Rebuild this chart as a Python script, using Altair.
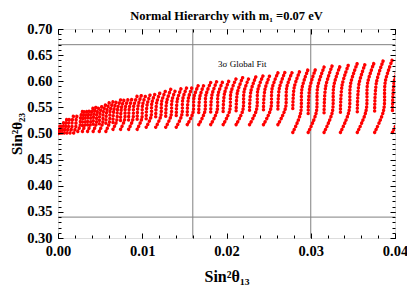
import altair as alt
import pandas as pd

# Main arcs of points: each row = control points (bottom -> top)
arc_x = [
    [0.0, 0.000015, 0.000017, 0.000029],
    [0.000029, 0.000073, 0.000081, 0.000116],
    [0.000116, 0.000189, 0.000203, 0.000261],
    [0.000261, 0.000363, 0.000383, 0.000464],
    [0.000464, 0.000595, 0.000621, 0.000725],
    [0.000725, 0.000885, 0.000916, 0.001044],
    [0.001044, 0.001233, 0.00127, 0.001421],
    [0.001421, 0.001639, 0.001682, 0.001856],
    [0.001856, 0.002103, 0.002152, 0.002349],
    [0.002349, 0.002625, 0.00268, 0.0029],
    [0.0029, 0.003205, 0.003265, 0.003509],
    [0.003509, 0.003843, 0.003909, 0.004176],
    [0.004176, 0.004539, 0.004611, 0.004901],
    [0.004901, 0.005293, 0.005371, 0.005684],
    [0.005684, 0.006105, 0.006189, 0.006525],
    [0.006525, 0.006975, 0.007064, 0.007424],
    [0.007424, 0.007903, 0.007998, 0.008381],
    [0.008381, 0.008889, 0.00899, 0.009396],
    [0.009396, 0.009933, 0.01004, 0.010469],
    [0.010469, 0.011035, 0.011148, 0.0116],
    [0.0116, 0.012195, 0.012313, 0.012789],
    [0.012789, 0.013413, 0.013537, 0.014036],
    [0.014036, 0.014689, 0.014819, 0.015341],
    [0.015341, 0.016023, 0.016159, 0.016704],
    [0.016704, 0.017415, 0.017557, 0.018125],
    [0.018125, 0.018865, 0.019012, 0.019604],
    [0.019604, 0.020373, 0.020526, 0.021141],
    [0.021141, 0.021939, 0.022098, 0.022736],
    [0.022736, 0.023563, 0.023728, 0.024389],
    [0.024389, 0.025245, 0.025416, 0.0261],
    [0.0261, 0.026985, 0.027161, 0.027869],
    [0.027869, 0.028783, 0.028965, 0.029696],
    [0.029696, 0.030639, 0.030827, 0.031581],
    [0.031581, 0.032553, 0.032747, 0.033524],
    [0.033524, 0.034525, 0.034725, 0.035525],
    [0.035525, 0.036555, 0.03676, 0.037584],
    [0.037584, 0.038643, 0.038854, 0.039701],
    [0.039701, 0.040789, 0.041006, 0.041876],
]
arc_y = [
    [0.500, 0.5026, 0.5061, 0.5087],
    [0.501, 0.5044, 0.509, 0.5124],
    [0.501, 0.5055, 0.5116, 0.5161],
    [0.501, 0.5066, 0.5142, 0.5198],
    [0.501, 0.5078, 0.5168, 0.5235],
    [0.501, 0.5089, 0.5193, 0.5272],
    [0.501, 0.51, 0.5219, 0.5309],
    [0.501, 0.5111, 0.5245, 0.5346],
    [0.501, 0.5122, 0.5271, 0.5383],
    [0.504, 0.5154, 0.5306, 0.542],
    [0.504, 0.5165, 0.5332, 0.5457],
    [0.504, 0.5176, 0.5358, 0.5494],
    [0.504, 0.5187, 0.5384, 0.5531],
    [0.504, 0.5198, 0.541, 0.5568],
    [0.504, 0.521, 0.5436, 0.5605],
    [0.508, 0.5249, 0.5473, 0.5642],
    [0.508, 0.526, 0.5499, 0.5679],
    [0.508, 0.5271, 0.5525, 0.5716],
    [0.508, 0.5282, 0.5551, 0.5753],
    [0.512, 0.5321, 0.5589, 0.579],
    [0.512, 0.5332, 0.5615, 0.5827],
    [0.512, 0.5343, 0.5641, 0.5864],
    [0.512, 0.5354, 0.5667, 0.5901],
    [0.517, 0.540, 0.5708, 0.5938],
    [0.517, 0.5412, 0.5734, 0.5975],
    [0.517, 0.5423, 0.5759, 0.6012],
    [0.517, 0.5434, 0.5785, 0.6049],
    [0.517, 0.5445, 0.5811, 0.6086],
    [0.517, 0.5456, 0.5837, 0.6123],
    [0.517, 0.5467, 0.5863, 0.616],
    [0.517, 0.5478, 0.5889, 0.6197],
    [0.502, 0.5384, 0.587, 0.6234],
    [0.502, 0.5395, 0.5896, 0.6271],
    [0.502, 0.5406, 0.5922, 0.6308],
    [0.502, 0.5418, 0.5948, 0.6345],
    [0.502, 0.5429, 0.5973, 0.6382],
    [0.502, 0.544, 0.5999, 0.6419],
    [0.502, 0.5451, 0.6025, 0.6456],
]

# Shorter upper arcs that sit between the main ones (upper band)
sub_x = [
    [0.0029, 0.002955, 0.003176],
    [0.003509, 0.00357, 0.003814],
    [0.004176, 0.004243, 0.00451],
    [0.004901, 0.004974, 0.005264],
    [0.005684, 0.005762, 0.006076],
    [0.006525, 0.006609, 0.006946],
    [0.007424, 0.007514, 0.007874],
    [0.008381, 0.008477, 0.00886],
    [0.009396, 0.009498, 0.009904],
    [0.010469, 0.010576, 0.011006],
    [0.0116, 0.011713, 0.012166],
    [0.012789, 0.012908, 0.013384],
    [0.014036, 0.014161, 0.01466],
    [0.015341, 0.015472, 0.015994],
    [0.016704, 0.01684, 0.017386],
    [0.018125, 0.018267, 0.018836],
    [0.019604, 0.019752, 0.020344],
    [0.021141, 0.021295, 0.02191],
    [0.022736, 0.022896, 0.023534],
    [0.024389, 0.024554, 0.025216],
    [0.0261, 0.026271, 0.026956],
    [0.027869, 0.028046, 0.028754],
    [0.029696, 0.029879, 0.03061],
    [0.031581, 0.03177, 0.032524],
    [0.033524, 0.033718, 0.034496],
    [0.035525, 0.035725, 0.036526],
    [0.037584, 0.03779, 0.038614],
    [0.039701, 0.039913, 0.04076],
]
sub_y = [
    [0.5154, 0.5306, 0.5439],
    [0.5165, 0.5332, 0.5476],
    [0.5176, 0.5358, 0.5513],
    [0.5187, 0.5384, 0.555],
    [0.5198, 0.541, 0.5587],
    [0.521, 0.5436, 0.5624],
    [0.5249, 0.5473, 0.5661],
    [0.526, 0.5499, 0.5698],
    [0.5271, 0.5525, 0.5735],
    [0.5282, 0.5551, 0.5772],
    [0.5321, 0.5589, 0.5809],
    [0.5332, 0.5615, 0.5846],
    [0.5343, 0.5641, 0.5883],
    [0.5354, 0.5667, 0.592],
    [0.540, 0.5708, 0.5957],
    [0.5412, 0.5734, 0.5994],
    [0.5423, 0.5759, 0.6031],
    [0.5434, 0.5785, 0.6068],
    [0.5445, 0.5811, 0.6105],
    [0.5456, 0.5837, 0.6142],
    [0.5467, 0.5863, 0.6179],
    [0.5478, 0.5889, 0.6216],
    [0.5384, 0.587, 0.6253],
    [0.5395, 0.5896, 0.629],
    [0.5406, 0.5922, 0.6327],
    [0.5418, 0.5948, 0.6364],
    [0.5429, 0.5973, 0.6401],
    [0.544, 0.5999, 0.6438],
]

fit_x_lines = [0.016, 0.030]
fit_y_lines = [0.34, 0.67]
label_text = ["3σ  Global Fit"]
label_x = [0.0190]
label_y = [0.633]

x_major = [0.0, 0.01, 0.02, 0.03, 0.04]
x_minor = [0.0, 0.002, 0.004, 0.006, 0.008, 0.01, 0.012, 0.014, 0.016, 0.018, 0.02,
           0.022, 0.024, 0.026, 0.028, 0.03, 0.032, 0.034, 0.036, 0.038, 0.04]
y_major = [0.30, 0.35, 0.40, 0.45, 0.50, 0.55, 0.60, 0.65, 0.70]
y_minor = [0.30, 0.31, 0.32, 0.33, 0.34, 0.35, 0.36, 0.37, 0.38, 0.39, 0.40, 0.41, 0.42,
           0.43, 0.44, 0.45, 0.46, 0.47, 0.48, 0.49, 0.50, 0.51, 0.52, 0.53, 0.54, 0.55,
           0.56, 0.57, 0.58, 0.59, 0.60, 0.61, 0.62, 0.63, 0.64, 0.65, 0.66, 0.67, 0.68,
           0.69, 0.70]

rows = []
for i, (xs, ys) in enumerate(zip(arc_x, arc_y)):
    for j, (xv, yv) in enumerate(zip(xs, ys)):
        rows.append({"arc": "a%d" % i, "step": j, "x": xv, "y": yv})
for i, (xs, ys) in enumerate(zip(sub_x, sub_y)):
    for j, (xv, yv) in enumerate(zip(xs, ys)):
        rows.append({"arc": "b%d" % i, "step": j, "x": xv, "y": yv})
df = pd.DataFrame(rows)
vdf = pd.DataFrame({"x": fit_x_lines})
hdf = pd.DataFrame({"y": fit_y_lines})
tdf = pd.DataFrame({"t": label_text, "x": label_x, "y": label_y})

FONT = "Liberation Serif"
xs_ = alt.Scale(domain=[0, 0.04], nice=False, zero=False)
ys_ = alt.Scale(domain=[0.30, 0.70], nice=False, zero=False)


def tick_axis(orient, vals, size, labels=False, **kw):
    return alt.Axis(orient=orient, values=vals, tickSize=size, offset=-size,
                    domain=False, grid=False, labels=labels, tickColor="black",
                    tickWidth=1, zindex=1, **kw)


ax_bottom = tick_axis("bottom", x_major, 5, labels=True, format=".2f",
                      labelFont=FONT, labelFontSize=14.5, labelFontWeight="bold",
                      labelColor="black", labelPadding=6, labelFlush=False,
                      title="Sin²θ₁₃", titleFont=FONT, titleFontSize=16,
                      titleFontWeight="bold", titleColor="black",
                      titleY=43, titleBaseline="middle")
ax_left = tick_axis("left", y_major, 5, labels=True, format=".2f",
                    labelFont=FONT, labelFontSize=14.5, labelFontWeight="bold",
                    labelColor="black", labelPadding=6, labelFlush=False,
                    title="Sin²θ₂₃", titleFont=FONT, titleFontSize=15,
                    titleFontWeight="bold", titleColor="black",
                    titleX=-47, titleBaseline="middle")

arcs = alt.Chart(df).mark_line(
    interpolate="catmull-rom", color="#ff0000", strokeWidth=3.5,
    strokeDash=[0.1, 3.3], strokeCap="round", clip=True
).encode(
    x=alt.X("x:Q", scale=xs_, axis=ax_bottom),
    y=alt.Y("y:Q", scale=ys_, axis=ax_left),
    detail="arc:N",
    order="step:Q",
)

vrules = alt.Chart(vdf).mark_rule(color="#808080", strokeWidth=1).encode(
    x=alt.X("x:Q", scale=xs_, axis=None)
)
hrules = alt.Chart(hdf).mark_rule(color="#808080", strokeWidth=1).encode(
    y=alt.Y("y:Q", scale=ys_, axis=None)
)

txt = alt.Chart(tdf).mark_text(
    align="left", baseline="middle", font=FONT, fontSize=9, color="black"
).encode(
    x=alt.X("x:Q", scale=xs_, axis=tick_axis("top", x_major, 5, title=None)),
    y=alt.Y("y:Q", scale=ys_, axis=tick_axis("right", y_major, 5, title=None)),
    text="t:N",
)

minor1 = alt.Chart(tdf).mark_point(opacity=0).encode(
    x=alt.X("x:Q", scale=xs_, axis=tick_axis("bottom", x_minor, 3, title=None)),
    y=alt.Y("y:Q", scale=ys_, axis=tick_axis("left", y_minor, 3, title=None)),
)
minor2 = alt.Chart(tdf).mark_point(opacity=0).encode(
    x=alt.X("x:Q", scale=xs_, axis=tick_axis("top", x_minor, 3, title=None)),
    y=alt.Y("y:Q", scale=ys_, axis=tick_axis("right", y_minor, 3, title=None)),
)

chart = alt.layer(vrules, hrules, arcs, txt, minor1, minor2).resolve_axis(
    x="independent", y="independent"
).properties(
    width=337, height=209,
    title=alt.TitleParams("Normal Hierarchy with m₁ =0.07 eV", font=FONT,
                          fontSize=12.5, fontWeight="bold", color="black",
                          anchor="middle", offset=13, dy=14),
    autosize=alt.AutoSizeParams(type="none"),
    padding={"left": 50, "top": 21, "right": 12, "bottom": 50},
).configure_view(stroke="black", strokeWidth=1).configure(background="white")

chart.save("out.html", embed_options={"renderer": "svg", "actions": False})
